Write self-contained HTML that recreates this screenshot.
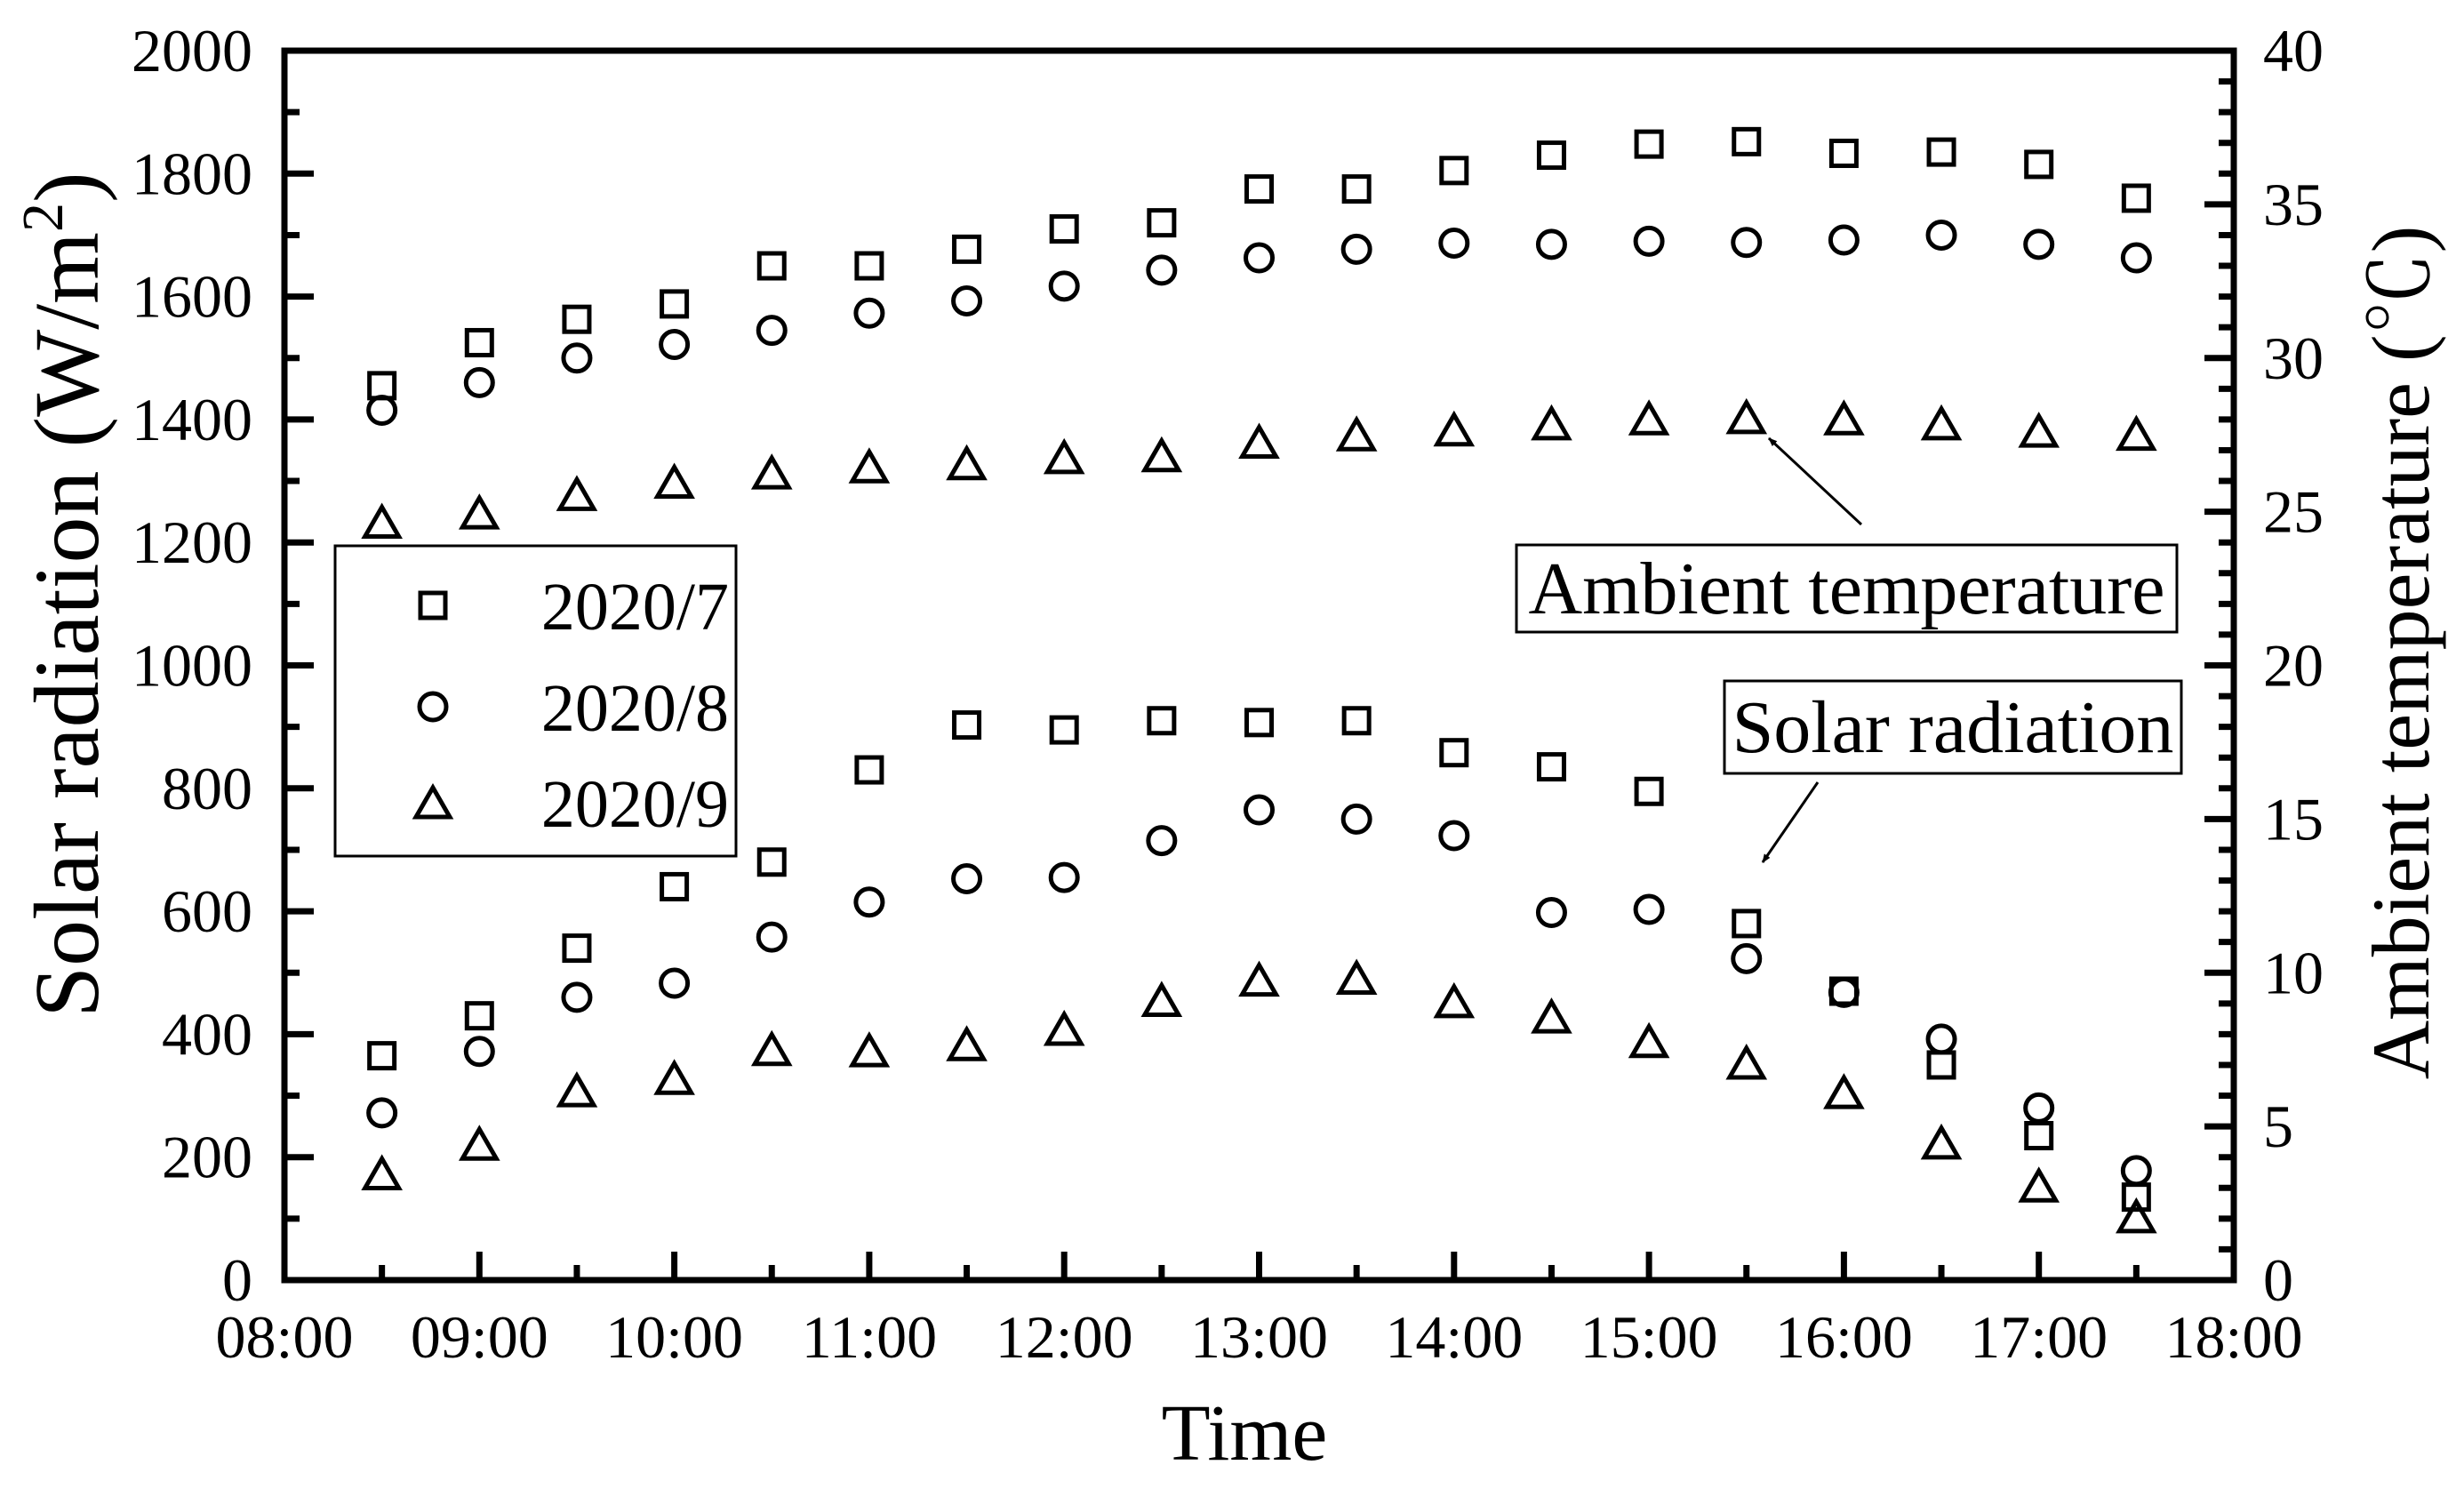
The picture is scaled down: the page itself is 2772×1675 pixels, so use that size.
<!DOCTYPE html>
<html><head><meta charset="utf-8"><style>
html,body{margin:0;padding:0;background:#fff;}
svg{display:block;}
text{font-family:"Liberation Serif","Noto Serif CJK SC",serif;}
</style></head><body>
<svg id="chart" width="2772" height="1675" viewBox="0 0 2772 1675" font-family="Liberation Serif, serif">
<defs><marker id="ah" markerWidth="10" markerHeight="8" refX="9" refY="4" orient="auto" markerUnits="userSpaceOnUse" viewBox="0 0 10 8"><path d="M0,0 L10,4 L0,8 Z" fill="#000"/></marker></defs>
<g id="plot"></g>
</svg>
<script>
const times = [8.5,9,9.5,10,10.5,11,11.5,12,12.5,13,13.5,14,14.5,15,15.5,16,16.5,17,17.5];
const tempJul = [29.1,30.5,31.26,31.76,33,33,33.54,34.2,34.4,35.5,35.5,36.1,36.6,36.96,37.04,36.66,36.7,36.3,35.2];
const tempAug = [28.3,29.2,30,30.44,30.9,31.46,31.86,32.34,32.86,33.26,33.54,33.74,33.7,33.8,33.76,33.84,34,33.7,33.26];
const tempSep = [24.6,24.9,25.5,25.9,26.2,26.4,26.5,26.7,26.76,27.2,27.44,27.6,27.8,27.96,28,27.96,27.8,27.56,27.46];
const solarJul = [365,430,540,640,680,830,903,895,910,907,910,858,835,795,580,470,350,235,135];
const solarAug = [272,372,460,483,558,615,653,655,715,765,750,723,598,603,523,468,392,280,178];
const solarSep = [170,218,305,325,372,370,380,405,452,485,488,450,425,385,350,302,220,150,100];
const xTickLabels = ["08:00","09:00","10:00","11:00","12:00","13:00","14:00","15:00","16:00","17:00","18:00"];
const yLeftTicks = [0,200,400,600,800,1000,1200,1400,1600,1800,2000];
const yRightTicks = [0,5,10,15,20,25,30,35,40];

const L=320,R=2513,T=57,B=1440;
const FF='"Liberation Serif","Noto Serif CJK SC",serif';
const xS=t=>L+(t-8)/10*(R-L);
const yS=v=>B-v/2000*(B-T);
const yT=v=>B-v/40*(B-T);
const NS="http://www.w3.org/2000/svg";
const g=document.getElementById('plot');
function mk(tag,attrs,parent){const e=document.createElementNS(NS,tag);for(const k in attrs)e.setAttribute(k,attrs[k]);if(tag==='text')e.setAttribute('font-family',FF);(parent||g).appendChild(e);return e;}

const frame=mk('rect',{x:L,y:T,width:R-L,height:B-T,fill:'none',stroke:'#000','stroke-width':7});



for(let v=0;v<=2000;v+=100){const y=yS(v);const len=v%200===0?33:17;
 const tk=mk('line',{x1:L,x2:L+len,y1:y,y2:y,stroke:'#000','stroke-width':7});
 
 }
yLeftTicks.forEach(v=>{const t=mk('text',{x:284,y:yS(v)+23,'font-size':68,'text-anchor':'end'});t.textContent=v;
 
 });
for(let v=0;v<=40;v+=1){const y=yT(v);const len=v%5===0?33:17;
 const tk=mk('line',{x1:R,x2:R-len,y1:y,y2:y,stroke:'#000','stroke-width':7});
 
 }
yRightTicks.forEach(v=>{const t=mk('text',{x:2546,y:yT(v)+23,'font-size':68,'text-anchor':'start'});t.textContent=v;
 
 });
for(let h=8;h<=18;h+=0.5){const x=xS(h);const len=Number.isInteger(h)?32:17;
 const tk=mk('line',{x1:x,x2:x,y1:B,y2:B-len,stroke:'#000','stroke-width':7});
 
 }
xTickLabels.forEach((s,i)=>{const t=mk('text',{x:xS(8+i),y:1527,'font-size':68,'text-anchor':'middle'});t.textContent=s;
 
 });

const xt=mk('text',{x:1400,y:1642,'font-size':90,'text-anchor':'middle'});xt.textContent='Time';


const yl=mk('text',{transform:'translate(110,669) rotate(-90)','font-size':104,'text-anchor':'middle'});
yl.innerHTML='Solar radiation (W/m<tspan dy="-40" font-size="66">2</tspan><tspan dy="40">)</tspan>';


const yr=mk('text',{transform:'translate(2732,734) rotate(-90)','font-size':92,'text-anchor':'middle'});
yr.textContent='Ambient temperature (\u2103)';



function square(x,y,name){const e=mk('rect',{x:x-14,y:y-14,width:28,height:28,fill:'none',stroke:'#000','stroke-width':5});
 
 }
function circle(x,y,name){const e=mk('circle',{cx:x,cy:y,r:15,fill:'none',stroke:'#000','stroke-width':5});
 
 }
function tri(x,y,name){const e=mk('polygon',{points:`${x},${y-19} ${x-19},${y+14} ${x+19},${y+14}`,fill:'none',stroke:'#000','stroke-width':5});
 
 }
times.forEach((t,i)=>{const x=xS(t);
 square(x,yT(tempJul[i]),'temp-jul-point');
 circle(x,yT(tempAug[i]),'temp-aug-point');
 tri(x,yT(tempSep[i]),'temp-sep-point');
 square(x,yS(solarJul[i]),'solar-jul-point');
 circle(x,yS(solarAug[i]),'solar-aug-point');
 tri(x,yS(solarSep[i]),'solar-sep-point');
});

const lg=mk('g',{});


mk('rect',{x:377,y:614,width:451,height:349,fill:'#fff',stroke:'#000','stroke-width':3},lg);
const labs=['2020/7','2020/8','2020/9'];const ly=[681,795,903];
square(487,ly[0],'legend-marker-jul');circle(487,ly[1],'legend-marker-aug');tri(487,ly[2]+2,'legend-marker-sep');
labs.forEach((s,i)=>{const t=mk('text',{x:820,y:ly[i]+27,'font-size':76,'text-anchor':'end'},lg);t.textContent=s;
 
 });

function note(x,y,w,h,txt,name){const gg=mk('g',{});
 
 
 mk('rect',{x,y,width:w,height:h,fill:'#fff',stroke:'#000','stroke-width':3},gg);
 const t=mk('text',{x:x+w/2,y:y+h/2+28,'font-size':84,'text-anchor':'middle'},gg);t.textContent=txt;}
note(1706,613,743,98,'Ambient temperature','ambient-temperature-annotation');
note(1940,766,514,104,'Solar radiation','solar-radiation-annotation');
const a1=mk('line',{x1:2094,y1:590,x2:1990,y2:493,stroke:'#000','stroke-width':3,'marker-end':'url(#ah)'});


const a2=mk('line',{x1:2045,y1:880,x2:1983,y2:970,stroke:'#000','stroke-width':3,'marker-end':'url(#ah)'});


</script>
</body></html>
